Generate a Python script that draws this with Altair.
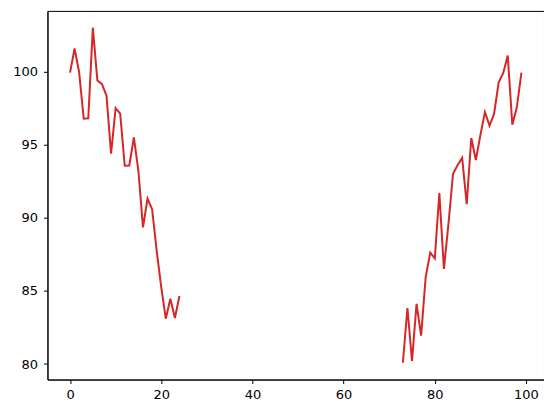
import altair as alt
import pandas as pd

# left segment (x = 0..24)
left_x = list(range(0, 25))
left_y = [99.93, 101.58, 99.95, 96.78, 96.80, 103.0, 99.39, 99.14, 98.35, 94.38,
          97.5, 97.12, 93.56, 93.58, 95.5, 93.2, 89.34, 91.31, 90.59, 87.76,
          85.26, 83.1, 84.46, 83.15, 84.65]
# right segment (x = 73..99)
right_x = list(range(73, 100))
right_y = [80.09, 83.83, 80.22, 84.12, 81.94, 85.94, 87.62, 87.23, 91.7, 86.5,
           89.6, 93.01, 93.6, 94.1, 90.93, 95.46, 93.95, 95.65, 97.23, 96.31,
           97.1, 99.25, 99.89, 101.09, 96.37, 97.57, 99.93]

df = pd.DataFrame({
    "x": left_x + right_x,
    "y": left_y + right_y,
    "seg": ["a"] * len(left_x) + ["b"] * len(right_x),
})

chart = alt.Chart(df).mark_line(color="#d62728", strokeWidth=2).encode(
    x=alt.X("x:Q", scale=alt.Scale(domain=[-4.95, 103.95], nice=False, zero=False),
            axis=alt.Axis(values=[0, 20, 40, 60, 80, 100], title=None, labelPadding=5)),
    y=alt.Y("y:Q", scale=alt.Scale(domain=[78.94, 104.15], nice=False, zero=False),
            axis=alt.Axis(values=[80, 85, 90, 95, 100], title=None, labelPadding=6)),
    detail="seg:N",
).properties(
    width=497, height=369,
    autosize=alt.AutoSizeParams(type="none"),
    padding={"left": 39.5, "top": 2.7, "right": 0, "bottom": 26},
).configure_view(
    stroke="black", strokeWidth=1,
).configure_axis(
    grid=False,
    domainColor="black", domainWidth=1,
    tickColor="black", tickWidth=1, tickSize=4,
    labelFont="DejaVu Sans", labelFontSize=13, labelColor="black",
)

chart.save("out.html", embed_options={"renderer": "svg", "actions": False})
